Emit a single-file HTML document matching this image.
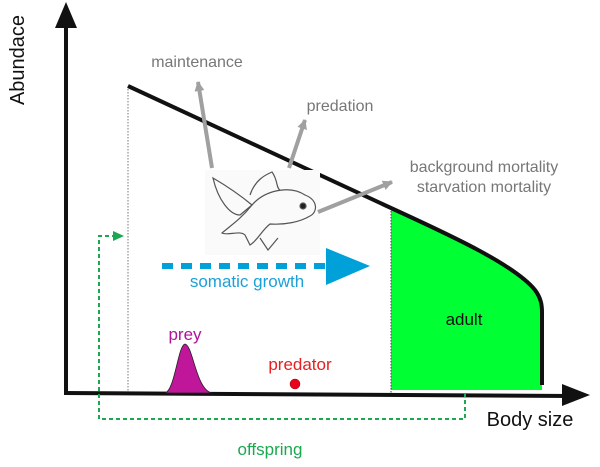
<!DOCTYPE html>
<html><head><style>body{margin:0;background:#fff}svg{display:block}text{font-family:"Liberation Sans",sans-serif}</style></head>
<body>
<svg width="600" height="467" viewBox="0 0 600 467">
<defs>
<marker id="ga" markerUnits="userSpaceOnUse" markerWidth="12" markerHeight="12" refX="9" refY="6" orient="auto"><path d="M0,1 L10,6 L0,11 Z" fill="#a0a0a0"/></marker>
</defs>
<path d="M391,208 C450,235 515,265 535,290 C541,298 542,305 542,312 L542,390 L391,390 Z" fill="#00ff33"/>
<line x1="128" y1="86" x2="128" y2="393" stroke="#777" stroke-width="1" stroke-dasharray="1.5,1.5"/>
<line x1="391" y1="208" x2="391" y2="393" stroke="#444" stroke-width="1" stroke-dasharray="1.5,1.5"/>
<path d="M128,86 L391,208 C450,235 515,265 535,290 C541,298 542,305 542,312 L542,385" fill="none" stroke="#111" stroke-width="4"/>
<line x1="66" y1="18" x2="66" y2="395" stroke="#111" stroke-width="4"/>
<path d="M66,2 L55,28 L77,28 Z" fill="#111"/>
<line x1="64" y1="393" x2="572" y2="396" stroke="#111" stroke-width="4"/>
<path d="M590,395 L562,384 L562,406 Z" fill="#111"/>
<path d="M465,393 L465,419 L99,419 L99,236 L114,236" fill="none" stroke="#1aa850" stroke-width="2" stroke-dasharray="4,3"/>
<path d="M124,236 L113,231 L113,241 Z" fill="#1aa850"/>
<line x1="162" y1="266" x2="325" y2="266" stroke="#00a0d8" stroke-width="6" stroke-dasharray="11,8"/>
<path d="M370,266 L326,248 L326,285 Z" fill="#00a0d8"/>
<path d="M165,393 C175,390 178,345 185,344 C193,345 196,390 212,393 Z" fill="#c0169a" stroke="#222" stroke-width="0.8"/>
<circle cx="295" cy="384" r="5" fill="#e8001c" stroke="#900" stroke-width="0.5"/>
<rect x="205" y="170" width="115" height="85" fill="#fafafa"/>
<g fill="none" stroke="#555" stroke-width="1.2">
<path d="M213,178 C225,185 240,195 252,205 L240,215 C230,215 218,200 213,178 Z"/>
<path d="M250,195 C255,180 265,175 272,172 C278,180 276,188 280,190"/>
<path d="M252,205 C265,190 290,185 305,195 C318,200 318,212 310,216 C300,222 285,225 270,224 C262,230 258,240 250,245 L245,235 C240,230 228,236 222,233 C230,226 240,220 252,205 Z"/>
<circle cx="303" cy="206" r="3" fill="#222"/>
<path d="M260,238 L268,250 L278,238"/>
</g>
<line x1="212" y1="168" x2="198" y2="82" stroke="#a0a0a0" stroke-width="4" marker-end="url(#ga)"/>
<line x1="289" y1="168" x2="305" y2="120" stroke="#a0a0a0" stroke-width="4" marker-end="url(#ga)"/>
<line x1="318" y1="212" x2="392" y2="182" stroke="#a0a0a0" stroke-width="4" marker-end="url(#ga)"/>
<text x="197" y="67" font-size="16" fill="#777" text-anchor="middle">maintenance</text>
<text x="340" y="111" font-size="16" fill="#777" text-anchor="middle">predation</text>
<text x="484" y="172" font-size="16" fill="#777" text-anchor="middle">background mortality</text>
<text x="484" y="192" font-size="16" fill="#777" text-anchor="middle">starvation mortality</text>
<text x="247" y="287" font-size="17" fill="#1ba0d8" text-anchor="middle">somatic growth</text>
<text x="185" y="340" font-size="17" fill="#b0139a" text-anchor="middle">prey</text>
<text x="300" y="370" font-size="17" fill="#e62020" text-anchor="middle">predator</text>
<text x="464" y="325" font-size="17" fill="#111" text-anchor="middle">adult</text>
<text x="530" y="426" font-size="20" fill="#111" text-anchor="middle">Body size</text>
<text x="270" y="455" font-size="17" fill="#1aa850" text-anchor="middle">offspring</text>
<text transform="translate(24,60) rotate(-90)" font-size="20" fill="#111" text-anchor="middle">Abundace</text>
</svg>
</body></html>
